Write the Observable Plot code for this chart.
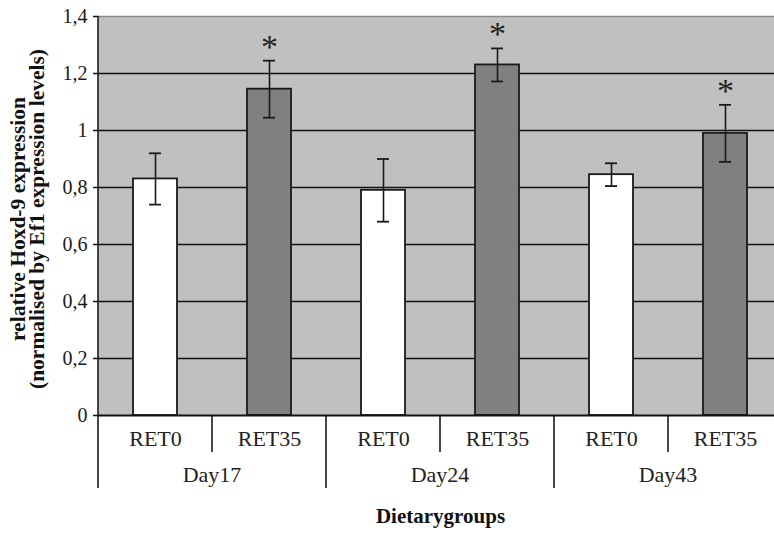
<!DOCTYPE html>
<html>
<head>
<meta charset="utf-8">
<script src="https://cdn.jsdelivr.net/npm/d3@7"></script>
<script src="https://cdn.jsdelivr.net/npm/@observablehq/plot@0.6"></script>
<style>
  html, body { margin: 0; padding: 0; background: #fff; }
  #wrap { width: 774px; height: 533px; overflow: hidden; position: relative; }
</style>
</head>
<body>
<div id="wrap"></div>
<script>
// ---- data ----
const days = ["Day17", "Day24", "Day43"];
const diets = ["RET0", "RET35"];
const means = [0.83, 1.145, 0.79, 1.23, 0.845, 0.99];
const errors = [0.09, 0.10, 0.11, 0.058, 0.04, 0.10];
const significant = [false, true, false, true, false, true];
const yTicks = [0, 0.2, 0.4, 0.6, 0.8, 1, 1.2, 1.4];
const yTitle = ["relative Hoxd-9 expression", "(normalised by Ef1 expression levels)"];
const xTitle = "Dietarygroups";

const rows = [];
days.forEach((day, i) => diets.forEach((diet, j) => {
  const k = i * diets.length + j;
  rows.push({key: day + " " + diet, day, diet, mean: means[k], err: errors[k],
             lo: means[k] - errors[k], hi: means[k] + errors[k], sig: significant[k]});
}));
const keys = rows.map(d => d.key);
const FONT = "Liberation Serif, Times New Roman, serif";
const fmt = d => String(+d.toFixed(1)).replace(".", ",");

const plot = Plot.plot({
  width: 790,
  height: 533,
  marginLeft: 98,
  marginRight: 8,
  marginTop: 16,
  marginBottom: 118,
  style: {fontFamily: FONT, fontSize: "20px", background: "#fff", color: "#1a1a1a", maxWidth: "none", overflow: "visible"},
  x: {domain: keys, paddingInner: 0.61, paddingOuter: 0.305, axis: null},
  y: {domain: [0, 1.4], axis: null},
  marks: [
    Plot.frame({fill: "#c0c0c0", stroke: "none"}),
    Plot.ruleY(yTicks.filter(t => t > 0 && t < 1.4), {stroke: "#111", strokeWidth: 1.6}),
    Plot.ruleY(yTicks.filter(t => t === 1.4), {stroke: "#8a8a8a", strokeWidth: 1.6}),
    Plot.barY(rows, {x: "key", y: "mean", fill: d => d.diet === "RET0" ? "#ffffff" : "#808080", stroke: "#1a1a1a", strokeWidth: 1.8}),
    Plot.ruleX(rows, {x: "key", y1: "lo", y2: "hi", stroke: "#1a1a1a", strokeWidth: 1.6}),
    Plot.tickY(rows, {x: "key", y: "lo", stroke: "#1a1a1a", strokeWidth: 1.8, insetLeft: 16, insetRight: 16}),
    Plot.tickY(rows, {x: "key", y: "hi", stroke: "#1a1a1a", strokeWidth: 1.8, insetLeft: 16, insetRight: 16}),
    Plot.text(rows.filter(d => d.sig), {x: "key", y: "hi", text: () => "*", fontSize: 34, dy: -14, fill: "#222"}),
    Plot.ruleY([0], {stroke: "#111", strokeWidth: 2}),
    Plot.axisY({ticks: yTicks, tickFormat: fmt, tickSize: 5, tickPadding: 6, fontSize: 20, label: null, stroke: "#111", strokeWidth: 1.5}),
    Plot.text(rows, {x: "key", y: () => 0, text: "diet", dy: 23, fontSize: 22, fill: "#222"}),
    Plot.text([yTitle[0]], {frameAnchor: "left", textAnchor: "middle", text: d => d, rotate: -90, dx: -80, dy: 3, fontSize: 21.5, fontWeight: "bold", fill: "#111"}),
    Plot.text([yTitle[1]], {frameAnchor: "left", textAnchor: "middle", text: d => d, rotate: -90, dx: -61, dy: 3, fontSize: 21.5, fontWeight: "bold", fill: "#111"}),
    Plot.text([xTitle], {frameAnchor: "bottom", text: d => d, dy: 107, fontSize: 21, fontWeight: "bold", fill: "#111"})
  ]
});

document.getElementById("wrap").appendChild(plot);

// ---- hierarchical x-axis separators and day labels, placed with Plot's own scales ----
const xs = plot.scale("x");
const ys = plot.scale("y");
const svg = d3.select(plot);
const y0 = ys.apply(0);
const yTop = ys.apply(1.4);
const gap = xs.step - xs.bandwidth;
const g = svg.append("g").attr("stroke", "#1a1a1a").attr("stroke-width", 1.6);
// left axis line, extended below for the category table
g.append("line").attr("x1", 98).attr("x2", 98).attr("y1", yTop).attr("y2", y0 + 73);
days.forEach((day, i) => {
  const first = xs.apply(day + " " + diets[0]);
  const left = first - gap / 2;
  if (i > 0) g.append("line").attr("x1", left).attr("x2", left).attr("y1", y0).attr("y2", y0 + 73);
  diets.slice(1).forEach(diet => {
    const b = xs.apply(day + " " + diet) - gap / 2;
    g.append("line").attr("x1", b).attr("x2", b).attr("y1", y0).attr("y2", y0 + 37);
  });
  const last = xs.apply(day + " " + diets[diets.length - 1]) + xs.bandwidth + gap / 2;
  svg.append("text")
    .attr("x", (left + last) / 2)
    .attr("y", y0 + 67)
    .attr("text-anchor", "middle")
    .attr("font-family", FONT)
    .attr("font-size", 22)
    .attr("fill", "#222")
    .text(day);
});
</script>
</body>
</html>
